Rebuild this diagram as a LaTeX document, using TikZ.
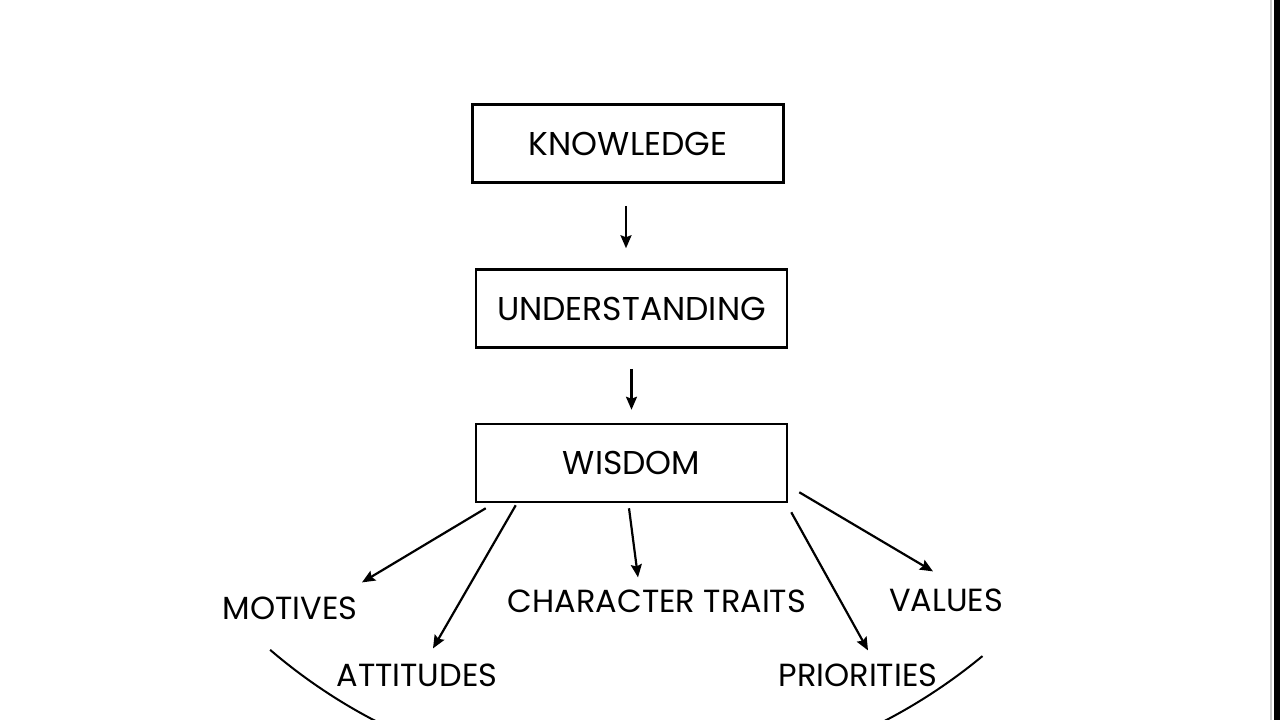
\documentclass[tikz,border=0pt]{standalone}
\usepackage{fontspec}
\setmainfont{Poppins}
\usetikzlibrary{arrows.meta, positioning}

\begin{document}
\begin{tikzpicture}[x=1pt, y=-1pt, >={Stealth[length=13pt, width=11pt, inset=2pt]},
    % khung chữ nhật cho ba tầng chính
    box/.style={draw, line width=2.5pt, minimum width=311pt, minimum height=78pt, inner sep=0pt, font=\fontsize{33}{36}\selectfont},
    lbl/.style={inner sep=0pt, font=\fontsize{32}{36}\selectfont},
    link/.style={->, line width=2.2pt}]

    \useasboundingbox (0,0) rectangle (1280,720);
    \clip (0,0) rectangle (1280,720);

    % Ba tầng chính
    \node[box] (know)   at (628,143.5) {\raisebox{-3pt}{KNOWLEDGE}};
    \node[box] (under)  at (631.5,308.5) {\raisebox{-6pt}{UNDERSTANDING}};
    \node[box] (wisdom) at (631.5,463) {WISDOM};

    % Các nhãn bên dưới
    \node[lbl] (motives)    at (290,608) {MOTIVES};
    \node[lbl] (attitudes)  at (417,675) {ATTITUDES};
    \node[lbl] (traits)     at (657,601) {CHARACTER TRAITS};
    \node[lbl] (priorities) at (858,675) {PRIORITIES};
    \node[lbl] (values)     at (946,600) {VALUES};

    % Mũi tên giữa các tầng
    \draw[link, shorten <=22pt, shorten >=20pt] ([xshift=-2pt]know.south) -- ([xshift=-2pt]know.south |- under.north);
    \draw[link, shorten <=20pt, shorten >=13pt] (under.south) -- (wisdom.north);

    % Mũi tên từ WISDOM
    \draw[link] ([shift={(11,5)}]wisdom.south west) -- ([shift={(72,-14)}]motives.north);
    \draw[link] ([shift={(41,2)}]wisdom.south west) -- ([shift={(16,-15)}]attitudes.north);
    \draw[link] ([shift={(-2.5,5)}]wisdom.south) -- ([shift={(-19,-12)}]traits.north);
    \draw[link] ([shift={(3,9)}]wisdom.south east) -- ([shift={(10,-13)}]priorities.north);
    \draw[link] ([shift={(11,-11)}]wisdom.south east) -- ([shift={(-13,-17)}]values.north);

    % Cung tròn phía dưới
    \draw[line width=2pt] (630,230) ++(130.6:553) arc[start angle=130.6, end angle=50.4, radius=553];

    % Viền màn hình bên phải
    \draw[gray!40, line width=1.5pt] (1271,0) -- (1271,720);
    \fill[black] (1274,0) rectangle (1280,720);
\end{tikzpicture}
\end{document}
